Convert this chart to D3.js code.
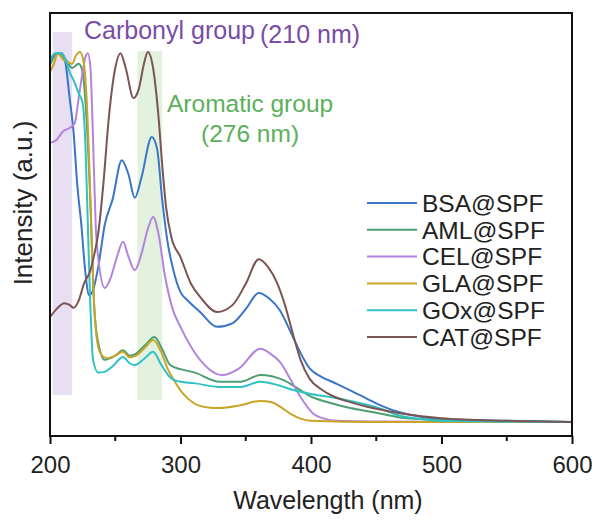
<!DOCTYPE html>
<html>
<head>
<meta charset="utf-8">
<script src="https://cdn.jsdelivr.net/npm/d3@7"></script>
<style>
  body { margin: 0; background: #fff; }
  svg { display: block; font-family: "Liberation Sans", Arial, sans-serif; }
</style>
</head>
<body>
<div id="chart"></div>
<script>
// spectra, [wavelength nm, intensity a.u.]
const bsa = [[200,0.889],[205,0.903],[209,0.905],[212,0.88],[215,0.8],[218,0.72],[221,0.59],[224,0.5],[227,0.39],[230,0.333],[233,0.345],[237,0.40],[242,0.50],[248,0.56],[255,0.652],[260,0.62],[265,0.563],[270,0.61],[278,0.707],[282,0.68],[286,0.558],[290,0.46],[294,0.399],[300,0.34],[305,0.322],[315,0.293],[328,0.258],[340,0.267],[350,0.30],[360,0.338],[368,0.325],[376,0.298],[386,0.235],[392,0.196],[399,0.16],[408,0.14],[417,0.127],[430,0.108],[443,0.088],[455,0.07],[468,0.056],[485,0.045],[500,0.04],[550,0.036],[600,0.033]];
const aml = [[200,0.877],[206,0.905],[212,0.89],[217,0.87],[222,0.88],[225,0.86],[228,0.75],[231,0.55],[234,0.30],[237,0.22],[242,0.18],[250,0.19],[256,0.203],[261,0.19],[266,0.195],[273,0.215],[280,0.234],[286,0.205],[292,0.168],[300,0.158],[310,0.151],[330,0.128],[346,0.128],[361,0.144],[379,0.132],[390,0.112],[399,0.095],[415,0.078],[430,0.066],[450,0.055],[468,0.044],[500,0.038],[550,0.035],[600,0.033]];
const cel = [[200,0.693],[205,0.70],[210,0.72],[215,0.728],[219,0.74],[222,0.80],[225,0.86],[227,0.895],[229,0.905],[231,0.87],[233,0.7],[235,0.5],[237,0.42],[242,0.35],[246,0.37],[251,0.42],[256,0.459],[260,0.425],[265,0.392],[270,0.43],[275,0.49],[279,0.518],[283,0.48],[288,0.38],[294,0.30],[300,0.258],[315,0.18],[332,0.144],[345,0.16],[361,0.206],[370,0.192],[376,0.176],[385,0.13],[392,0.092],[402,0.052],[410,0.041],[420,0.036],[450,0.034],[600,0.033]];
const gla = [[200,0.861],[203,0.88],[206,0.905],[210,0.89],[213,0.885],[217,0.88],[220,0.9],[223,0.908],[226,0.88],[228,0.8],[230,0.65],[232,0.45],[234,0.3],[237,0.21],[240,0.19],[244,0.184],[250,0.19],[256,0.199],[261,0.186],[266,0.19],[273,0.21],[279,0.227],[285,0.2],[290,0.16],[295,0.132],[302,0.1],[310,0.078],[320,0.068],[330,0.066],[345,0.072],[361,0.083],[370,0.08],[378,0.066],[385,0.051],[392,0.041],[400,0.036],[450,0.033],[600,0.033]];
const gox = [[200,0.89],[204,0.905],[208,0.905],[212,0.89],[215,0.86],[218,0.842],[222,0.81],[225,0.787],[227,0.7],[229,0.5],[231,0.3],[233,0.18],[237,0.15],[241,0.151],[248,0.165],[256,0.187],[261,0.172],[265,0.168],[272,0.182],[279,0.199],[285,0.17],[292,0.139],[300,0.128],[310,0.125],[330,0.116],[346,0.116],[361,0.128],[375,0.12],[385,0.11],[399,0.1],[415,0.092],[430,0.083],[450,0.068],[468,0.048],[485,0.04],[500,0.036],[600,0.033]];
const cat = [[200,0.281],[205,0.30],[211,0.314],[215,0.31],[218,0.303],[222,0.32],[226,0.36],[231,0.392],[234,0.43],[237,0.48],[241,0.6],[245,0.75],[250,0.87],[254,0.905],[258,0.87],[264,0.799],[268,0.82],[272,0.88],[275,0.908],[279,0.87],[283,0.76],[286,0.64],[289,0.54],[293,0.47],[300,0.423],[308,0.36],[315,0.329],[328,0.293],[340,0.31],[350,0.36],[360,0.418],[367,0.40],[374,0.362],[380,0.31],[386,0.243],[392,0.18],[399,0.135],[408,0.11],[417,0.094],[430,0.08],[443,0.069],[468,0.054],[500,0.042],[550,0.036],[600,0.033]];

const seriesNames = ['BSA@SPF', 'AML@SPF', 'CEL@SPF', 'GLA@SPF', 'GOx@SPF', 'CAT@SPF'];
const seriesData = [bsa, aml, cel, gla, gox, cat];
const seriesColors = ['#3b76c6', '#4d9e72', '#b384dc', '#c9a428', '#2fc2c4', '#7b5553'];

const xTicks = [200, 300, 400, 500, 600];
const xMinor = [250, 350, 450, 550];

// highlighted bands: [from nm, to nm, top, bottom]
const carbonylBand = [202, 217, 0.955, 0.097];
const aromaticBand = [267, 286, 0.91, 0.085];

const width = 596, height = 521;
const margin = { left: 50, right: 24, top: 13, bottom: 85 };

const svg = d3.select('#chart').append('svg')
    .attr('width', width)
    .attr('height', height);

const x = d3.scaleLinear().domain([200, 600]).range([margin.left, width - margin.right]);
const y = d3.scaleLinear().domain([0, 1]).range([height - margin.bottom, margin.top]);

// bands
[[carbonylBand, '#e8dff3'], [aromaticBand, '#e2f2df']].forEach(([b, c]) => {
    svg.append('rect')
        .attr('x', x(b[0]))
        .attr('width', x(b[1]) - x(b[0]))
        .attr('y', y(b[2]))
        .attr('height', y(b[3]) - y(b[2]))
        .attr('fill', c);
});

// curves
const line = d3.line()
    .x(d => x(d[0]))
    .y(d => y(d[1]))
    .curve(d3.curveMonotoneX);

svg.append('g')
    .selectAll('path')
    .data(seriesData)
    .join('path')
    .attr('d', line)
    .attr('fill', 'none')
    .attr('stroke', (d, i) => seriesColors[i])
    .attr('stroke-width', 2);

// frame
svg.append('rect')
    .attr('x', margin.left)
    .attr('y', margin.top)
    .attr('width', width - margin.left - margin.right)
    .attr('height', height - margin.top - margin.bottom)
    .attr('fill', 'none')
    .attr('stroke', '#111')
    .attr('stroke-width', 2);

// x axis
const xAxis = svg.append('g')
    .attr('transform', `translate(0,${height - margin.bottom})`)
    .call(d3.axisBottom(x).tickValues(xTicks).tickSize(8).tickSizeOuter(0).tickPadding(12));
xAxis.select('.domain').remove();
xAxis.selectAll('.tick line').attr('stroke', '#111').attr('stroke-width', 2);
xAxis.selectAll('.tick text')
    .attr('font-size', 24)
    .attr('font-family', '"Liberation Sans", Arial, sans-serif')
    .attr('fill', '#222');

svg.append('g')
    .selectAll('line')
    .data(xMinor)
    .join('line')
    .attr('x1', d => x(d)).attr('x2', d => x(d))
    .attr('y1', height - margin.bottom).attr('y2', height - margin.bottom + 5)
    .attr('stroke', '#111')
    .attr('stroke-width', 2);

// axis titles
svg.append('text')
    .attr('x', 328)
    .attr('y', 509)
    .attr('text-anchor', 'middle')
    .attr('font-size', 25)
    .attr('fill', '#222')
    .text('Wavelength (nm)');

svg.append('text')
    .attr('transform', 'translate(32,203) rotate(-90)')
    .attr('text-anchor', 'middle')
    .attr('font-size', 26)
    .attr('fill', '#222')
    .text('Intensity (a.u.)');

// annotations
svg.append('text')
    .attr('x', 84).attr('y', 39)
    .attr('font-size', 25)
    .attr('fill', '#7a4ca6')
    .text('Carbonyl group');
svg.append('text')
    .attr('x', 260).attr('y', 43)
    .attr('font-size', 25)
    .attr('fill', '#7a4ca6')
    .text('(210 nm)');

svg.append('text')
    .attr('x', 167).attr('y', 112)
    .attr('font-size', 24.5)
    .attr('fill', '#5bb05b')
    .text('Aromatic group');
svg.append('text')
    .attr('x', 201).attr('y', 142)
    .attr('font-size', 24.5)
    .attr('fill', '#5bb05b')
    .text('(276 nm)');

// legend
const legend = svg.append('g')
    .selectAll('g')
    .data(seriesNames)
    .join('g')
    .attr('transform', (d, i) => `translate(367,${203 + i * 26.8})`);

legend.append('line')
    .attr('x1', 0).attr('x2', 50)
    .attr('stroke', (d, i) => seriesColors[i])
    .attr('stroke-width', 2);

legend.append('text')
    .attr('x', 55)
    .attr('dy', '0.36em')
    .attr('font-size', 24.5)
    .attr('fill', '#222')
    .text(d => d);
</script>
</body>
</html>
